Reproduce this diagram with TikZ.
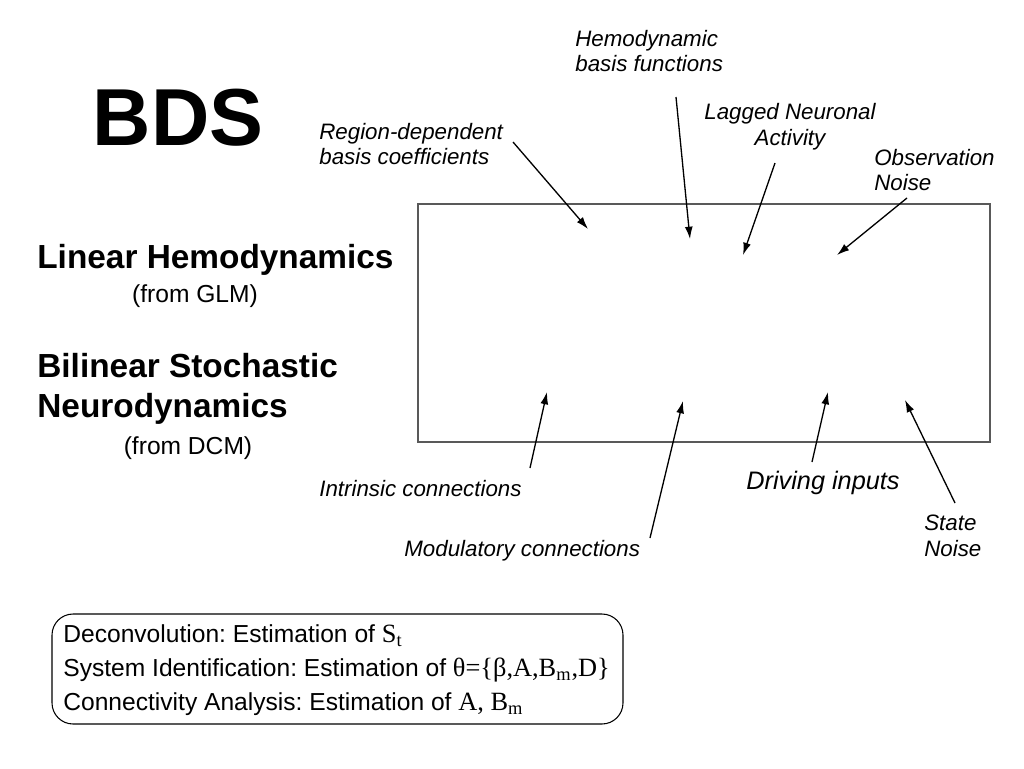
\documentclass[tikz,border=0pt]{standalone}
\usepackage{fontspec}
\setmainfont{Liberation Sans}
\newfontfamily\tms{Liberation Serif}
\usetikzlibrary{arrows.meta,positioning}
\frenchspacing

\tikzset{
  lbl/.style={font=\fontsize{12.7}{14.7}\selectfont\itshape, inner sep=0pt, align=left},
  ttl/.style={font=\fontsize{19}{22.7}\selectfont\bfseries, inner sep=0pt, align=left},
  sub/.style={font=\fontsize{14}{16}\selectfont, inner sep=0pt},
  arr/.style={-{Latex[length=7pt,width=4.5pt]}, line width=0.75pt},
}

\begin{document}
\begin{tikzpicture}[x=0.02cm, y=-0.02cm]
      \useasboundingbox (0,0) rectangle (1024,768);

      \node[inner sep=0pt, font=\fontsize{46}{50}\selectfont\bfseries] (bds) at (178,118) {BDS};

      \node[ttl, anchor=west] (lin) at (37,260) {Linear Hemodynamics};
      \node[sub] (glm) at (195,296) {(from GLM)};
      \node[ttl, anchor=west] (bil) at (37,389) {Bilinear Stochastic\\Neurodynamics};
      \node[sub] (dcm) at (188,448) {(from DCM)};

      \draw[gray!70!black, line width=0.6pt] (418,204) rectangle (990,442);

      % labels round the box
      \node[lbl, anchor=west] (hemo) at (575,51) {Hemodynamic\\basis functions};
      \node[lbl, anchor=west] (region) at (319,144) {Region-dependent\\basis coefficients};
      \node[lbl, align=center] (lagged) at (790,127) {Lagged Neuronal\\Activity};
      \node[lbl, anchor=west] (obs) at (874,170) {Observation\\Noise};
      \node[lbl, anchor=west] (intr) at (319,489) {Intrinsic connections};
      \node[lbl, anchor=west] (modu) at (404,551) {Modulatory connections};
      \node[lbl, anchor=west, font=\fontsize{14.4}{16}\selectfont\itshape] (drv) at (746,483) {Driving inputs};
      \node[lbl, anchor=west] (state) at (924,536) {State\\Noise};

      \coordinate (regionT) at (513,142); \coordinate (regionH) at (588,229);
      \coordinate (hemoT) at (676,97);    \coordinate (hemoH) at (690,239);
      \coordinate (laggedT) at (775,163); \coordinate (laggedH) at (743,255);
      \coordinate (obsT) at (907,198);    \coordinate (obsH) at (837,255);
      \coordinate (intrT) at (530,468);   \coordinate (intrH) at (547,392);
      \coordinate (moduT) at (650,538);   \coordinate (moduH) at (683,401);
      \coordinate (drvT) at (812,462);    \coordinate (drvH) at (828,392);
      \coordinate (stateT) at (955,503);  \coordinate (stateH) at (905,400);

      \foreach \n in {region,hemo,lagged,obs,intr,modu,drv,state}
        \draw[arr] (\n T) -- (\n H);

      \draw[line width=0.6pt, rounded corners=12pt] (52,614) rectangle (623,724);
      \node[inner sep=0pt, anchor=west, align=left, font=\fontsize{14}{19.3}\selectfont] (est) at (63,670)
        {Deconvolution: Estimation of {\tms\fontsize{15}{19.3}\selectfont S\textsubscript{t}}\\
         System Identification: Estimation of {\tms\fontsize{15}{19.3}\selectfont θ=\{β,A,B\textsubscript{m},D\}}\\
         Connectivity Analysis: Estimation of {\tms\fontsize{15}{19.3}\selectfont A, B\textsubscript{m}}};

\end{tikzpicture}
\end{document}
